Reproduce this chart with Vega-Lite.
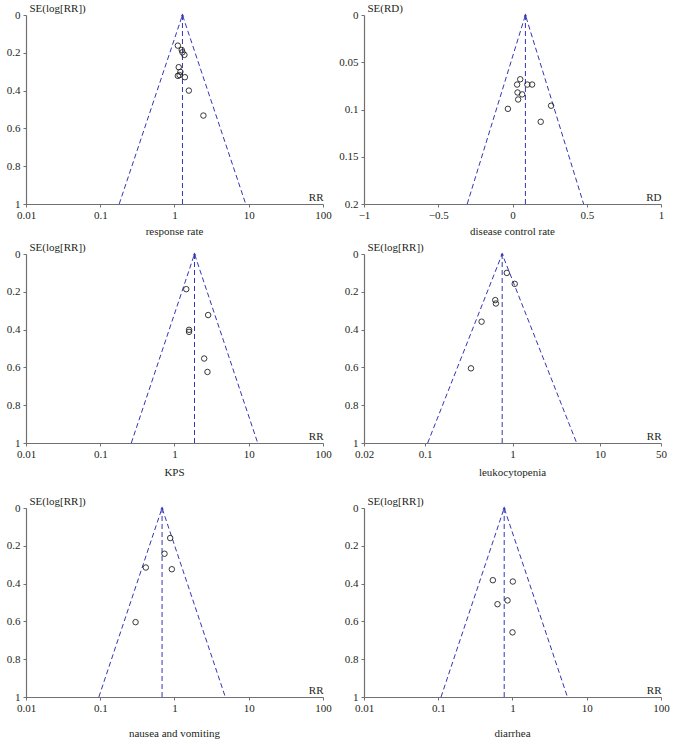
{
  "$schema": "https://vega.github.io/schema/vega-lite/v6.json",
  "padding": {"left": 6, "top": 2, "right": 0, "bottom": 0},
  "background": "white",
  "data": {"values": [
    {"panel": "p1", "kind": "study", "x": 1.11, "se": 0.162, "ord": 0},
    {"panel": "p1", "kind": "study", "x": 1.25, "se": 0.185, "ord": 0},
    {"panel": "p1", "kind": "study", "x": 1.28, "se": 0.197, "ord": 0},
    {"panel": "p1", "kind": "study", "x": 1.36, "se": 0.211, "ord": 0},
    {"panel": "p1", "kind": "study", "x": 1.14, "se": 0.276, "ord": 0},
    {"panel": "p1", "kind": "study", "x": 1.2, "se": 0.301, "ord": 0},
    {"panel": "p1", "kind": "study", "x": 1.11, "se": 0.322, "ord": 0},
    {"panel": "p1", "kind": "study", "x": 1.17, "se": 0.318, "ord": 0},
    {"panel": "p1", "kind": "study", "x": 1.38, "se": 0.329, "ord": 0},
    {"panel": "p1", "kind": "study", "x": 1.56, "se": 0.4, "ord": 0},
    {"panel": "p1", "kind": "study", "x": 2.45, "se": 0.532, "ord": 0},
    {"panel": "p1", "kind": "funnel", "x": 0.18, "se": 1, "ord": 1},
    {"panel": "p1", "kind": "funnel", "x": 1.28, "se": 0, "ord": 2},
    {"panel": "p1", "kind": "funnel", "x": 9.1, "se": 1, "ord": 3},
    {"panel": "p1", "kind": "pooled", "x": 1.28, "se": 0, "ord": 1},
    {"panel": "p1", "kind": "pooled", "x": 1.28, "se": 1, "ord": 2},

    {"panel": "p2", "kind": "study", "x": 0.052, "se": 0.068, "ord": 0},
    {"panel": "p2", "kind": "study", "x": 0.031, "se": 0.0736, "ord": 0},
    {"panel": "p2", "kind": "study", "x": 0.1, "se": 0.0736, "ord": 0},
    {"panel": "p2", "kind": "study", "x": 0.132, "se": 0.0736, "ord": 0},
    {"panel": "p2", "kind": "study", "x": 0.034, "se": 0.082, "ord": 0},
    {"panel": "p2", "kind": "study", "x": 0.065, "se": 0.084, "ord": 0},
    {"panel": "p2", "kind": "study", "x": 0.038, "se": 0.0894, "ord": 0},
    {"panel": "p2", "kind": "study", "x": -0.031, "se": 0.0993, "ord": 0},
    {"panel": "p2", "kind": "study", "x": 0.26, "se": 0.096, "ord": 0},
    {"panel": "p2", "kind": "study", "x": 0.19, "se": 0.113, "ord": 0},
    {"panel": "p2", "kind": "funnel", "x": -0.305, "se": 0.2, "ord": 1},
    {"panel": "p2", "kind": "funnel", "x": 0.087, "se": 0, "ord": 2},
    {"panel": "p2", "kind": "funnel", "x": 0.479, "se": 0.2, "ord": 3},
    {"panel": "p2", "kind": "pooled", "x": 0.087, "se": 0, "ord": 1},
    {"panel": "p2", "kind": "pooled", "x": 0.087, "se": 0.2, "ord": 2},

    {"panel": "p3", "kind": "study", "x": 1.44, "se": 0.186, "ord": 0},
    {"panel": "p3", "kind": "study", "x": 2.84, "se": 0.323, "ord": 0},
    {"panel": "p3", "kind": "study", "x": 1.57, "se": 0.401, "ord": 0},
    {"panel": "p3", "kind": "study", "x": 1.57, "se": 0.412, "ord": 0},
    {"panel": "p3", "kind": "study", "x": 2.51, "se": 0.553, "ord": 0},
    {"panel": "p3", "kind": "study", "x": 2.78, "se": 0.624, "ord": 0},
    {"panel": "p3", "kind": "funnel", "x": 0.262, "se": 1, "ord": 1},
    {"panel": "p3", "kind": "funnel", "x": 1.86, "se": 0, "ord": 2},
    {"panel": "p3", "kind": "funnel", "x": 13.2, "se": 1, "ord": 3},
    {"panel": "p3", "kind": "pooled", "x": 1.86, "se": 0, "ord": 1},
    {"panel": "p3", "kind": "pooled", "x": 1.86, "se": 1, "ord": 2},

    {"panel": "p4", "kind": "study", "x": 0.861, "se": 0.1, "ord": 0},
    {"panel": "p4", "kind": "study", "x": 1.06, "se": 0.158, "ord": 0},
    {"panel": "p4", "kind": "study", "x": 0.635, "se": 0.244, "ord": 0},
    {"panel": "p4", "kind": "study", "x": 0.646, "se": 0.262, "ord": 0},
    {"panel": "p4", "kind": "study", "x": 0.443, "se": 0.358, "ord": 0},
    {"panel": "p4", "kind": "study", "x": 0.335, "se": 0.605, "ord": 0},
    {"panel": "p4", "kind": "funnel", "x": 0.107, "se": 1, "ord": 1},
    {"panel": "p4", "kind": "funnel", "x": 0.762, "se": 0, "ord": 2},
    {"panel": "p4", "kind": "funnel", "x": 5.42, "se": 1, "ord": 3},
    {"panel": "p4", "kind": "pooled", "x": 0.762, "se": 0, "ord": 1},
    {"panel": "p4", "kind": "pooled", "x": 0.762, "se": 1, "ord": 2},

    {"panel": "p5", "kind": "study", "x": 0.875, "se": 0.159, "ord": 0},
    {"panel": "p5", "kind": "study", "x": 0.733, "se": 0.242, "ord": 0},
    {"panel": "p5", "kind": "study", "x": 0.411, "se": 0.315, "ord": 0},
    {"panel": "p5", "kind": "study", "x": 0.921, "se": 0.324, "ord": 0},
    {"panel": "p5", "kind": "study", "x": 0.299, "se": 0.604, "ord": 0},
    {"panel": "p5", "kind": "funnel", "x": 0.0958, "se": 1, "ord": 1},
    {"panel": "p5", "kind": "funnel", "x": 0.68, "se": 0, "ord": 2},
    {"panel": "p5", "kind": "funnel", "x": 4.83, "se": 1, "ord": 3},
    {"panel": "p5", "kind": "pooled", "x": 0.68, "se": 0, "ord": 1},
    {"panel": "p5", "kind": "pooled", "x": 0.68, "se": 1, "ord": 2},

    {"panel": "p6", "kind": "study", "x": 0.544, "se": 0.382, "ord": 0},
    {"panel": "p6", "kind": "study", "x": 1.01, "se": 0.389, "ord": 0},
    {"panel": "p6", "kind": "study", "x": 0.857, "se": 0.489, "ord": 0},
    {"panel": "p6", "kind": "study", "x": 0.628, "se": 0.509, "ord": 0},
    {"panel": "p6", "kind": "study", "x": 1.0, "se": 0.658, "ord": 0},
    {"panel": "p6", "kind": "funnel", "x": 0.109, "se": 1, "ord": 1},
    {"panel": "p6", "kind": "funnel", "x": 0.773, "se": 0, "ord": 2},
    {"panel": "p6", "kind": "funnel", "x": 5.49, "se": 1, "ord": 3},
    {"panel": "p6", "kind": "pooled", "x": 0.773, "se": 0, "ord": 1},
    {"panel": "p6", "kind": "pooled", "x": 0.773, "se": 1, "ord": 2}
  ]},
  "spacing": 17,
  "vconcat": [
    {
      "spacing": 4,
      "vconcat": [
        {
          "bounds": "flush",
          "spacing": 41,
          "hconcat": [
            {
              "width": 297, "height": 189,
              "title": {"text": "response rate", "orient": "bottom", "offset": 6},
              "transform": [{"filter": "datum.panel === 'p1'"}],
              "encoding": {
                "x": {"field": "x", "type": "quantitative", "scale": {"type": "log", "domain": [0.01, 100], "nice": false}, "axis": {"values": [0.01, 0.1, 1, 10, 100], "format": "~g", "title": "RR"}},
                "y": {"field": "se", "type": "quantitative", "scale": {"domain": [0, 1], "reverse": true, "nice": false, "zero": false}, "axis": {"values": [0, 0.2, 0.4, 0.6, 0.8, 1], "format": "~g", "title": "SE(log[RR])"}}
              },
              "layer": [
                {"transform": [{"filter": "datum.kind === 'funnel'"}], "mark": {"type": "line", "strokeDash": [5, 3], "color": "#3535b5", "strokeWidth": 1}, "encoding": {"order": {"field": "ord"}}},
                {"transform": [{"filter": "datum.kind === 'pooled'"}], "mark": {"type": "line", "strokeDash": [5, 3], "color": "#3535b5", "strokeWidth": 1}, "encoding": {"order": {"field": "ord"}}},
                {"transform": [{"filter": "datum.kind === 'funnel' && datum.se === 0"}], "mark": {"type": "point", "shape": "triangle-up", "filled": true, "size": 12, "color": "#3535b5", "opacity": 1}},
                {"transform": [{"filter": "datum.kind === 'study'"}], "mark": {"type": "point", "shape": "circle", "filled": false, "size": 30, "color": "#222222", "strokeWidth": 0.9, "opacity": 1}}
              ]
            },
            {
              "width": 297, "height": 189,
              "title": {"text": "disease control rate", "orient": "bottom", "offset": 6},
              "transform": [{"filter": "datum.panel === 'p2'"}],
              "encoding": {
                "x": {"field": "x", "type": "quantitative", "scale": {"domain": [-1, 1], "nice": false, "zero": false}, "axis": {"values": [-1, -0.5, 0, 0.5, 1], "format": "~g", "title": "RD"}},
                "y": {"field": "se", "type": "quantitative", "scale": {"domain": [0, 0.2], "reverse": true, "nice": false, "zero": false}, "axis": {"values": [0, 0.05, 0.1, 0.15, 0.2], "format": "~g", "title": "SE(RD)"}}
              },
              "layer": [
                {"transform": [{"filter": "datum.kind === 'funnel'"}], "mark": {"type": "line", "strokeDash": [5, 3], "color": "#3535b5", "strokeWidth": 1}, "encoding": {"order": {"field": "ord"}}},
                {"transform": [{"filter": "datum.kind === 'pooled'"}], "mark": {"type": "line", "strokeDash": [5, 3], "color": "#3535b5", "strokeWidth": 1}, "encoding": {"order": {"field": "ord"}}},
                {"transform": [{"filter": "datum.kind === 'funnel' && datum.se === 0"}], "mark": {"type": "point", "shape": "triangle-up", "filled": true, "size": 12, "color": "#3535b5", "opacity": 1}},
                {"transform": [{"filter": "datum.kind === 'study'"}], "mark": {"type": "point", "shape": "circle", "filled": false, "size": 30, "color": "#222222", "strokeWidth": 0.9, "opacity": 1}}
              ]
            }
          ]
        },
        {
          "bounds": "flush",
          "spacing": 41,
          "hconcat": [
            {
              "width": 297, "height": 189,
              "title": {"text": "KPS", "orient": "bottom", "offset": 8},
              "transform": [{"filter": "datum.panel === 'p3'"}],
              "encoding": {
                "x": {"field": "x", "type": "quantitative", "scale": {"type": "log", "domain": [0.01, 100], "nice": false}, "axis": {"values": [0.01, 0.1, 1, 10, 100], "format": "~g", "title": "RR"}},
                "y": {"field": "se", "type": "quantitative", "scale": {"domain": [0, 1], "reverse": true, "nice": false, "zero": false}, "axis": {"values": [0, 0.2, 0.4, 0.6, 0.8, 1], "format": "~g", "title": "SE(log[RR])"}}
              },
              "layer": [
                {"transform": [{"filter": "datum.kind === 'funnel'"}], "mark": {"type": "line", "strokeDash": [5, 3], "color": "#3535b5", "strokeWidth": 1}, "encoding": {"order": {"field": "ord"}}},
                {"transform": [{"filter": "datum.kind === 'pooled'"}], "mark": {"type": "line", "strokeDash": [5, 3], "color": "#3535b5", "strokeWidth": 1}, "encoding": {"order": {"field": "ord"}}},
                {"transform": [{"filter": "datum.kind === 'funnel' && datum.se === 0"}], "mark": {"type": "point", "shape": "triangle-up", "filled": true, "size": 12, "color": "#3535b5", "opacity": 1}},
                {"transform": [{"filter": "datum.kind === 'study'"}], "mark": {"type": "point", "shape": "circle", "filled": false, "size": 30, "color": "#222222", "strokeWidth": 0.9, "opacity": 1}}
              ]
            },
            {
              "width": 297, "height": 189,
              "title": {"text": "leukocytopenia", "orient": "bottom", "offset": 8},
              "transform": [{"filter": "datum.panel === 'p4'"}],
              "encoding": {
                "x": {"field": "x", "type": "quantitative", "scale": {"type": "log", "domain": [0.02, 50], "nice": false}, "axis": {"values": [0.02, 0.1, 1, 10, 50], "format": "~g", "title": "RR"}},
                "y": {"field": "se", "type": "quantitative", "scale": {"domain": [0, 1], "reverse": true, "nice": false, "zero": false}, "axis": {"values": [0, 0.2, 0.4, 0.6, 0.8, 1], "format": "~g", "title": "SE(log[RR])"}}
              },
              "layer": [
                {"transform": [{"filter": "datum.kind === 'funnel'"}], "mark": {"type": "line", "strokeDash": [5, 3], "color": "#3535b5", "strokeWidth": 1}, "encoding": {"order": {"field": "ord"}}},
                {"transform": [{"filter": "datum.kind === 'pooled'"}], "mark": {"type": "line", "strokeDash": [5, 3], "color": "#3535b5", "strokeWidth": 1}, "encoding": {"order": {"field": "ord"}}},
                {"transform": [{"filter": "datum.kind === 'funnel' && datum.se === 0"}], "mark": {"type": "point", "shape": "triangle-up", "filled": true, "size": 12, "color": "#3535b5", "opacity": 1}},
                {"transform": [{"filter": "datum.kind === 'study'"}], "mark": {"type": "point", "shape": "circle", "filled": false, "size": 30, "color": "#222222", "strokeWidth": 0.9, "opacity": 1}}
              ]
            }
          ]
        }
      ]
    },
    {
      "bounds": "flush",
      "spacing": 41,
      "hconcat": [
        {
          "width": 297, "height": 189,
          "title": {"text": "nausea and vomiting", "orient": "bottom", "offset": 15},
          "transform": [{"filter": "datum.panel === 'p5'"}],
          "encoding": {
            "x": {"field": "x", "type": "quantitative", "scale": {"type": "log", "domain": [0.01, 100], "nice": false}, "axis": {"values": [0.01, 0.1, 1, 10, 100], "format": "~g", "title": "RR"}},
            "y": {"field": "se", "type": "quantitative", "scale": {"domain": [0, 1], "reverse": true, "nice": false, "zero": false}, "axis": {"values": [0, 0.2, 0.4, 0.6, 0.8, 1], "format": "~g", "title": "SE(log[RR])"}}
          },
          "layer": [
            {"transform": [{"filter": "datum.kind === 'funnel'"}], "mark": {"type": "line", "strokeDash": [5, 3], "color": "#3535b5", "strokeWidth": 1}, "encoding": {"order": {"field": "ord"}}},
            {"transform": [{"filter": "datum.kind === 'pooled'"}], "mark": {"type": "line", "strokeDash": [5, 3], "color": "#3535b5", "strokeWidth": 1}, "encoding": {"order": {"field": "ord"}}},
            {"transform": [{"filter": "datum.kind === 'funnel' && datum.se === 0"}], "mark": {"type": "point", "shape": "triangle-up", "filled": true, "size": 12, "color": "#3535b5", "opacity": 1}},
            {"transform": [{"filter": "datum.kind === 'study'"}], "mark": {"type": "point", "shape": "circle", "filled": false, "size": 30, "color": "#222222", "strokeWidth": 0.9, "opacity": 1}}
          ]
        },
        {
          "width": 297, "height": 189,
          "title": {"text": "diarrhea", "orient": "bottom", "offset": 15},
          "transform": [{"filter": "datum.panel === 'p6'"}],
          "encoding": {
            "x": {"field": "x", "type": "quantitative", "scale": {"type": "log", "domain": [0.01, 100], "nice": false}, "axis": {"values": [0.01, 0.1, 1, 10, 100], "format": "~g", "title": "RR"}},
            "y": {"field": "se", "type": "quantitative", "scale": {"domain": [0, 1], "reverse": true, "nice": false, "zero": false}, "axis": {"values": [0, 0.2, 0.4, 0.6, 0.8, 1], "format": "~g", "title": "SE(log[RR])"}}
          },
          "layer": [
            {"transform": [{"filter": "datum.kind === 'funnel'"}], "mark": {"type": "line", "strokeDash": [5, 3], "color": "#3535b5", "strokeWidth": 1}, "encoding": {"order": {"field": "ord"}}},
            {"transform": [{"filter": "datum.kind === 'pooled'"}], "mark": {"type": "line", "strokeDash": [5, 3], "color": "#3535b5", "strokeWidth": 1}, "encoding": {"order": {"field": "ord"}}},
            {"transform": [{"filter": "datum.kind === 'funnel' && datum.se === 0"}], "mark": {"type": "point", "shape": "triangle-up", "filled": true, "size": 12, "color": "#3535b5", "opacity": 1}},
            {"transform": [{"filter": "datum.kind === 'study'"}], "mark": {"type": "point", "shape": "circle", "filled": false, "size": 30, "color": "#222222", "strokeWidth": 0.9, "opacity": 1}}
          ]
        }
      ]
    }
  ],
  "config": {
    "view": {"stroke": null},
    "axis": {
      "grid": false,
      "domainColor": "#707070",
      "domainWidth": 1.2,
      "tickColor": "#707070",
      "tickSize": 3,
      "labelFont": "Liberation Serif",
      "labelFontSize": 11,
      "labelColor": "#231f20",
      "titleFont": "Liberation Serif",
      "titleFontSize": 11,
      "titleFontWeight": "normal",
      "titleColor": "#231f20"
    },
    "axisX": {"titleAlign": "right", "titleAnchor": null, "titleX": 297, "titleY": -4, "titleBaseline": "alphabetic", "labelPadding": 2, "labelFlush": false},
    "axisY": {"titleAngle": 0, "titleAlign": "left", "titleX": 3, "titleY": -4, "titleBaseline": "alphabetic", "labelPadding": 3},
    "title": {"font": "Liberation Serif", "fontSize": 11, "fontWeight": "normal", "color": "#231f20", "anchor": "middle"}
  }
}
